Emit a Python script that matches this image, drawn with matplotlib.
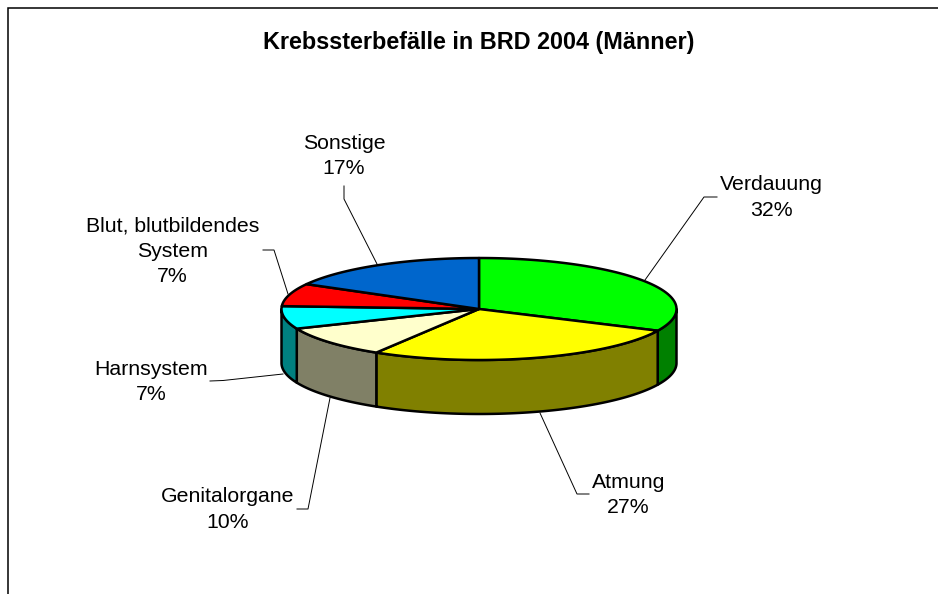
import numpy as np
import matplotlib
matplotlib.use("Agg")
import matplotlib.pyplot as plt
from matplotlib.patches import Polygon

plt.rcParams['font.family'] = ['Liberation Sans', 'DejaVu Sans']

# values, clockwise from 12 o'clock
labels = ["Verdauung", "Atmung", "Genitalorgane", "Harnsystem",
          "Blut, blutbildendes\nSystem", "Sonstige"]
values = [32.0, 26.7, 10.0, 7.2, 7.2, 16.9]
top_colors = ["#00FF00", "#FFFF00", "#FFFFCC", "#00FFFF", "#FF0000", "#0066CC"]
side_colors = ["#008000", "#808000", "#808066", "#008080", "#800000", "#003366"]

# label centre and leader line for each slice (pixels)
label_xy = [(771.5, 197.5), (628.5, 495), (227.5, 509.5), (151.5, 382), (172.5, 251.5), (344, 156)]
leaders = [
    [(717, 197), (704, 197), (645, 280)],
    [(589, 494), (577, 494), (540, 413)],
    [(297, 509), (308, 509), (330, 398)],
    [(210, 381), (223, 380.5), (283, 374)],
    [(263, 250), (274, 250), (288, 294)],
    [(344, 186), (344, 199), (377, 264)],
]

cx, cy = 479, 309
rx, ry = 197.5, 51
depth = 54


def rim(a0, a1):
    # points on the top ellipse, angles in degrees clockwise from the top
    t = np.radians(np.linspace(a0, a1, 200))
    return np.column_stack([cx + rx * np.sin(t), cy - ry * np.cos(t)])


fig = plt.figure(figsize=(9.38, 5.94), dpi=100)
ax = fig.add_axes([0, 0, 1, 1])
ax.set_xlim(0, 938)
ax.set_ylim(594, 0)
ax.axis('off')

# chart frame, open on the right and at the bottom
ax.plot([8, 8, 938], [594, 7.5, 7.5], color='black', lw=1.1, solid_joinstyle='miter')

edges = np.cumsum([0] + values) / sum(values) * 360

# side wall, only the front half of the pie shows
for i in range(len(values)):
    a0 = max(edges[i], 90)
    a1 = min(edges[i + 1], 270)
    if a1 <= a0:
        continue
    arc = rim(a0, a1)
    wall = np.vstack([arc, (arc + [0, depth])[::-1]])
    ax.add_patch(Polygon(wall, closed=True, facecolor=side_colors[i], edgecolor='black',
                         lw=1.8, joinstyle='round', zorder=2))

# top face
for i in range(len(values)):
    arc = rim(edges[i], edges[i + 1])
    face = np.vstack([[cx, cy], arc])
    ax.add_patch(Polygon(face, closed=True, facecolor=top_colors[i], edgecolor='black',
                         lw=1.8, joinstyle='round', zorder=3))

# labels and leader lines
for i in range(len(values)):
    pts = np.array(leaders[i])
    ax.plot(pts[:, 0], pts[:, 1], color='black', lw=0.7, zorder=1)
    ax.text(label_xy[i][0], label_xy[i][1], f"{labels[i]}\n{values[i]:.0f}%", ha='center',
            va='center', fontsize=15.3, color='black', linespacing=1.43)

ax.text(479, 42, "Krebssterbefälle in BRD 2004 (Männer)", ha='center', va='center',
        fontsize=16.8, fontweight='bold', color='black')

fig.savefig("out.png", dpi=100)
